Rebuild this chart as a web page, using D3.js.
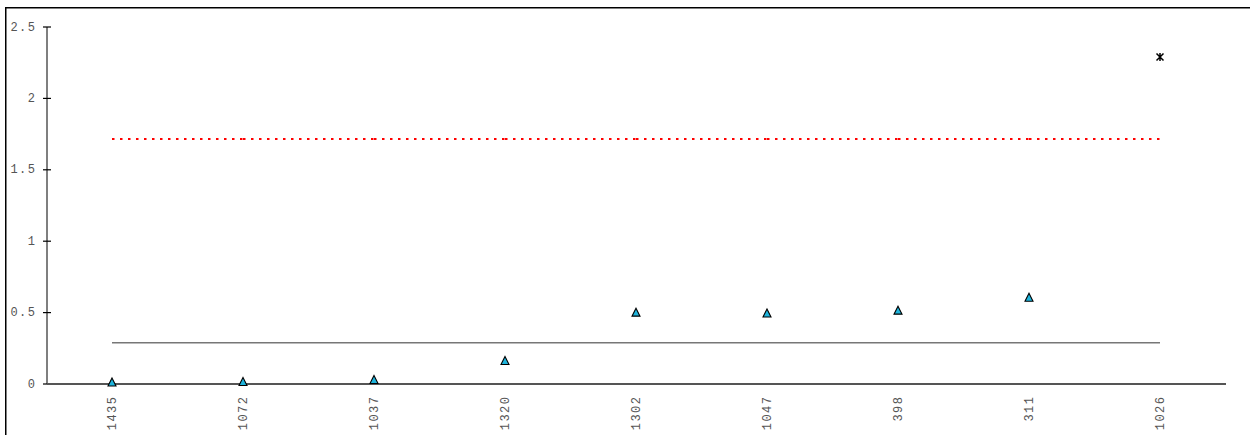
<!DOCTYPE html>
<html>
<head>
<meta charset="utf-8">
<script src="https://cdn.jsdelivr.net/npm/d3@7"></script>
<style>
  html, body { margin: 0; padding: 0; background: #fff; }
  svg { display: block; }
  text { font-family: "Liberation Mono", "DejaVu Sans Mono", monospace; font-size: 12px; fill: #555; letter-spacing: 1.5px; }
</style>
</head>
<body>
<svg id="chart" width="1250" height="435"></svg>
<script>
// Categories along the x axis and the measured value for each
const categories = ["1435", "1072", "1037", "1320", "1302", "1047", "398", "311", "1026"];
const values = [0.007, 0.01, 0.025, 0.158, 0.496, 0.49, 0.51, 0.6, 2.286];
// Marker kind for each point: triangle for in-range, star for the outlier
const markers = ["tri", "tri", "tri", "tri", "tri", "tri", "tri", "tri", "star"];
// Reference levels: centre line and upper limit
const centerLine = 0.286;
const upperLimit = 1.712;
const yTicks = [0, 0.5, 1, 1.5, 2, 2.5];

const svg = d3.select("#chart");

// Outer frame
svg.append("rect")
  .attr("x", 5.75).attr("y", 7.75)
  .attr("width", 1260).attr("height", 440)
  .attr("fill", "none").attr("stroke", "#000").attr("stroke-width", 1.5);

const x = d3.scaleBand().domain(categories).range([46.5, 1225.5]);
const y = d3.scaleLinear().domain([0, 2.5]).range([383.5, 26.5]);
const cx = d => x(d) + x.bandwidth() / 2;

// Y axis
const yAxis = svg.append("g").attr("transform", "translate(46.5,0)")
  .call(d3.axisLeft(y).tickValues(yTicks).tickSize(0).tickPadding(10)
    .tickFormat(d => d === 0 ? "0" : String(d)));
yAxis.select(".domain").attr("stroke", "#555").attr("stroke-width", 1.5);
yAxis.selectAll(".tick text").attr("fill", "#555").attr("font-family", null).attr("font-size", null)
  .attr("dy", "0.3em");
yAxis.selectAll(".tick").append("line")
  .attr("x1", -3.5).attr("x2", 4.5).attr("stroke", "#000").attr("stroke-width", 1.2);

// X axis
const xAxis = svg.append("g").attr("transform", "translate(0,383.5)")
  .call(d3.axisBottom(x).tickSize(0).tickPadding(0));
xAxis.select(".domain").attr("stroke", "#555").attr("stroke-width", 2);
xAxis.selectAll(".tick text")
  .attr("fill", "#555").attr("font-family", null).attr("font-size", null)
  .attr("transform", "translate(4,12) rotate(-90)")
  .attr("text-anchor", "end").attr("dy", 0).attr("y", 0).attr("x", 0);

// Centre line
svg.append("line")
  .attr("x1", cx(categories[0])).attr("x2", cx(categories[categories.length - 1]))
  .attr("y1", y(centerLine)).attr("y2", y(centerLine))
  .attr("stroke", "#777").attr("stroke-width", 1.5);

// Upper limit, dotted, drawn one segment per category interval
const segs = d3.pairs(categories);
svg.append("g").selectAll("line").data(segs).join("line")
  .attr("x1", d => cx(d[0])).attr("x2", d => cx(d[1]))
  .attr("y1", y(upperLimit)).attr("y2", y(upperLimit))
  .attr("stroke", "#f00").attr("stroke-width", 2)
  .attr("stroke-dasharray", "2.5,5.5");

// Points
const pts = categories.map((c, i) => ({ c, v: values[i], m: markers[i] }));
const g = svg.append("g");
g.selectAll("path.tri").data(pts.filter(p => p.m === "tri")).join("path")
  .attr("class", "tri")
  .attr("d", "M0,-4.5L4,3.5L-4,3.5Z")
  .attr("transform", d => `translate(${cx(d.c)},${y(d.v)})`)
  .attr("fill", "#1eb4dc").attr("stroke", "#000").attr("stroke-width", 1.1);

g.selectAll("path.star").data(pts.filter(p => p.m === "star")).join("path")
  .attr("class", "star")
  .attr("d", "M-3.5,-3.5L3.5,3.5M-3.5,3.5L3.5,-3.5M0,-4L0,4")
  .attr("transform", d => `translate(${cx(d.c)},${y(d.v)})`)
  .attr("fill", "none").attr("stroke", "#000").attr("stroke-width", 1.5);
</script>
</body>
</html>
